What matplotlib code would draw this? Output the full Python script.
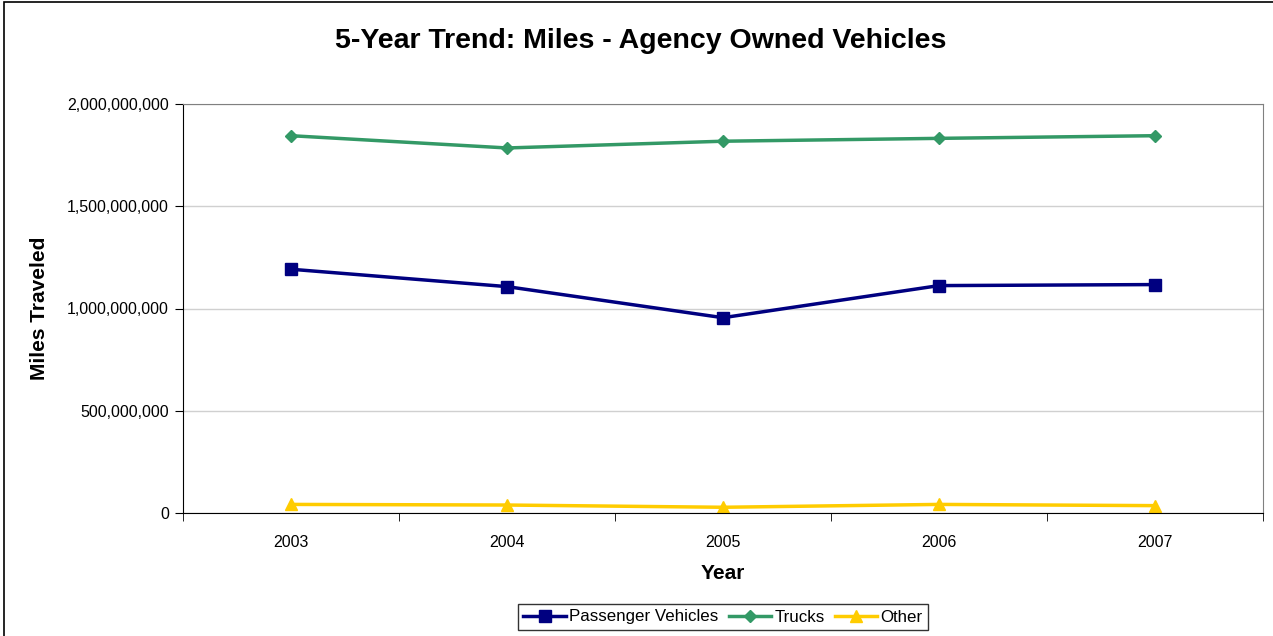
import matplotlib

matplotlib.use("Agg")
import matplotlib.pyplot as plt
from matplotlib.patches import Rectangle
from matplotlib.ticker import FuncFormatter, FixedLocator
import numpy as np

plt.rcParams["font.family"] = ["Liberation Sans", "DejaVu Sans"]

# Data
years = ["2003", "2004", "2005", "2006", "2007"]
passenger = [1.192e9, 1.107e9, 0.955e9, 1.112e9, 1.117e9]
trucks = [1.845e9, 1.785e9, 1.818e9, 1.832e9, 1.845e9]
other = [42e6, 39e6, 28e6, 42e6, 36e6]

fig = plt.figure(figsize=(12.73, 6.36), dpi=100)
# outer chart border
fig.patches.append(Rectangle((4 / 1273, -0.1), 1.2, 0.1 + 1 - 2 / 636, transform=fig.transFigure,
                             fill=False, edgecolor="black", linewidth=1.2))

ax = fig.add_axes([183 / 1273, 1 - 513 / 636, (1263 - 183) / 1273, (513 - 104) / 636])
x = np.arange(len(years))
ax.plot(x, passenger, color="#000080", linewidth=2.5, marker="s", markersize=8, label="Passenger Vehicles")
ax.plot(x, trucks, color="#339966", linewidth=2.5, marker="D", markersize=6, label="Trucks")
ax.plot(x, other, color="#FFCC00", linewidth=2.5, marker="^", markersize=9, label="Other")

ax.set_xlim(-0.5, len(years) - 0.5)
ax.set_ylim(0, 2e9)
ax.set_yticks(np.arange(0, 2.01e9, 5e8))
ax.yaxis.set_major_formatter(FuncFormatter(lambda v, p: "{:,.0f}".format(v)))
ax.set_xticks(x)
ax.set_xticklabels(years)
ax.xaxis.set_minor_locator(FixedLocator(np.arange(-0.5, len(years), 1.0)))
ax.tick_params(axis="x", which="major", length=0, pad=16, labelsize=11.5)
ax.tick_params(axis="x", which="minor", length=6, direction="out", color="black")
ax.tick_params(axis="y", length=6, direction="out", labelsize=11.5, pad=4)
ax.grid(axis="y", color="#d0d0d0", linewidth=1)
ax.set_axisbelow(True)
for side in ["top", "right"]:
    ax.spines[side].set_color("#808080")
for side in ["left", "bottom"]:
    ax.spines[side].set_color("black")

ax.set_xlabel("Year", fontsize=15, fontweight="bold", labelpad=10)
ax.set_ylabel("Miles Traveled", fontsize=15, fontweight="bold", labelpad=13)
fig.text(641 / 1273, 1 - 41 / 636, "5-Year Trend: Miles - Agency Owned Vehicles",
         ha="center", va="center", fontsize=20.5, fontweight="bold")

leg = fig.legend(loc="center", bbox_to_anchor=(723 / 1273, 1 - 617 / 636), ncol=3, frameon=True,
                 fontsize=12.2, handlelength=2.5, handletextpad=0.2, columnspacing=0.6,
                 borderpad=0.3, fancybox=False, edgecolor="black")
leg.get_frame().set_linewidth(1)

plt.savefig("out.png", dpi=100)
